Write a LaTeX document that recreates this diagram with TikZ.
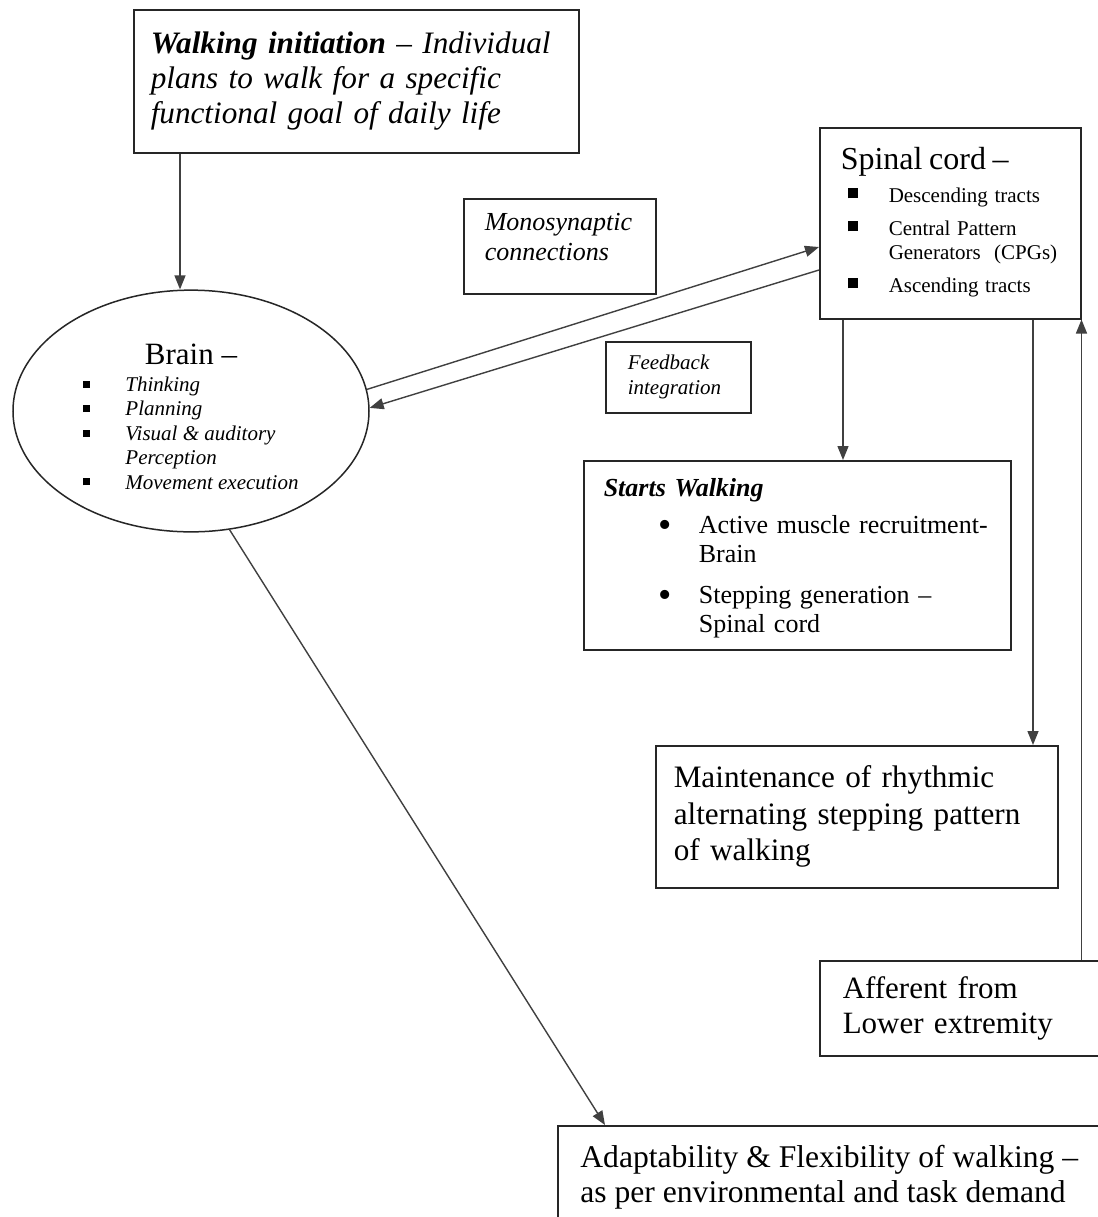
\documentclass[tikz,border=0pt]{standalone}
\usepackage{fontspec}
\setmainfont{Liberation Serif}
\usetikzlibrary{arrows.meta}
\usetikzlibrary{positioning}
\usetikzlibrary{calc}
\usetikzlibrary{shapes.geometric}
\newcommand{\sqbul}[1]{\rule[0.18em]{#1}{#1}}
\newcommand{\rdbul}{\raisebox{-1.6pt}{\fontsize{19}{14}\selectfont\textbullet}}

\begin{document}
\begin{tikzpicture}[x=0.5pt,y=-0.5pt,
		box/.style={draw=black!85, line width=0.75pt, anchor=north west, align=left, inner ysep=0pt},
		arr/.style={draw=black!75, line width=0.7pt, -{Triangle[length=7pt,width=5.5pt]}},
	]
	% page
	\useasboundingbox (0,0) rectangle (1098,1217);
	\fill[white] (0,0) rectangle (1098,1217);
	\clip (0,0) rectangle (1098,1217);
	% draw boxes
	\node[box, inner xsep=8.5pt, text width=205.5pt, minimum height=71.5pt, font=\fontsize{15.6}{17.5}\selectfont\itshape] (init) at (133,9) {\textbf{Walking initiation} -- Individual\\plans to walk for a specific\\functional goal of daily life};
	\node[draw=black!85, line width=0.75pt, ellipse, minimum width=178pt, minimum height=120pt, inner sep=0pt, align=center] (brain) at (191,411) {{\fontsize{15.5}{17}\selectfont\rule{0pt}{19.5pt}Brain --}\\[1.5pt]
		{\fontsize{10.5}{12.2}\selectfont\itshape
			\begin{tabular}[t]{@{}l@{\hspace{17.5pt}}l@{}}
				\sqbul{3.5pt} & Thinking\\
				\sqbul{3.5pt} & Planning\\
				\sqbul{3.5pt} & Visual \& auditory\\
				& Perception\\
				\sqbul{3.5pt} & Movement execution
		\end{tabular}}};
	\node[box, inner xsep=10.5pt, text width=75pt, minimum height=47.5pt, font=\fontsize{13}{15}\selectfont\itshape] (mono) at (463,198) {Monosynaptic\\connections\rule[-9pt]{0pt}{9pt}};
	\node[box, inner xsep=11pt, text width=50.5pt, minimum height=35.5pt, font=\fontsize{10.5}{12.5}\selectfont\itshape] (feed) at (605,341) {Feedback\\integration};
	\node[box, inner xsep=10.5pt, text width=109.5pt, minimum height=95.5pt] (spinal) at (819,127) {{\fontsize{16}{18}\selectfont Spinal cord --}\\[4.5pt]
		{\fontsize{10.5}{12}\selectfont
			\begin{tabular}[t]{@{\hspace{3.5pt}}l@{\hspace{15.5pt}}l@{}}
				\sqbul{5pt} & Descending tracts\\[4.5pt]
				\sqbul{5pt} & Central Pattern\\
				& Generators\ \ (CPGs)\\[4.5pt]
				\sqbul{5pt} & Ascending tracts
		\end{tabular}}};
	\node[box, inner xsep=10pt, text width=193.5pt, minimum height=94.5pt, font=\fontsize{13}{14.5}\selectfont] (start) at (583,460) {\rule{0pt}{14pt}\textbf{\textit{Starts Walking}}\\[4pt]
		\begin{tabular}[t]{@{\hspace{27.5pt}}l@{\hspace{13.4pt}}l@{}}
			\rdbul & Active muscle recruitment-\\
			& Brain\\[6pt]
			\rdbul & Stepping generation --\\
			& Spinal cord
	\end{tabular}};
	\node[box, inner xsep=9pt, text width=183pt, minimum height=71pt, font=\fontsize{15.6}{18.3}\selectfont] (maint) at (655,745) {Maintenance of rhythmic\\alternating stepping pattern\\of walking};
	\node[box, inner xsep=11.5pt, text width=127.5pt, minimum height=47.5pt, font=\fontsize{15.5}{17.5}\selectfont] (aff) at (819,960) {Afferent from\\Lower extremity};
	\node[box, minimum width=300pt, minimum height=70pt] (adapt) at (557,1125) {};
	\node[anchor=north west, align=left, inner sep=0pt, font=\fontsize{15.8}{17.5}\selectfont] (adapttext) at ($(adapt.north west)+(23,20)$) {Adaptability \& Flexibility of walking --\\as per environmental and task demand};
	% draw arrows
	\coordinate (i1) at ($(init.south west)+(47,0)$);
	\coordinate (s1) at ($(spinal.south west)+(24,0)$);
	\coordinate (s2) at ($(spinal.south west)+(214,0)$);
	\draw[arr] (i1) -- (i1 |- brain.north);
	\draw[arr] (brain.7) -- ($(spinal.north west)+(0,120)$);
	\draw[arr] ($(spinal.north west)+(0,143)$) -- (brain.1);
	\draw[arr] (s1) -- (s1 |- start.north);
	\draw[arr] (s2) -- (s2 |- maint.north);
	\draw[arr] (spinal.south east |- aff.north) -- (spinal.south east);
	\draw[arr] (brain.-72) -- ($(adapt.north west)+(48,0)$);
\end{tikzpicture}
\end{document}
